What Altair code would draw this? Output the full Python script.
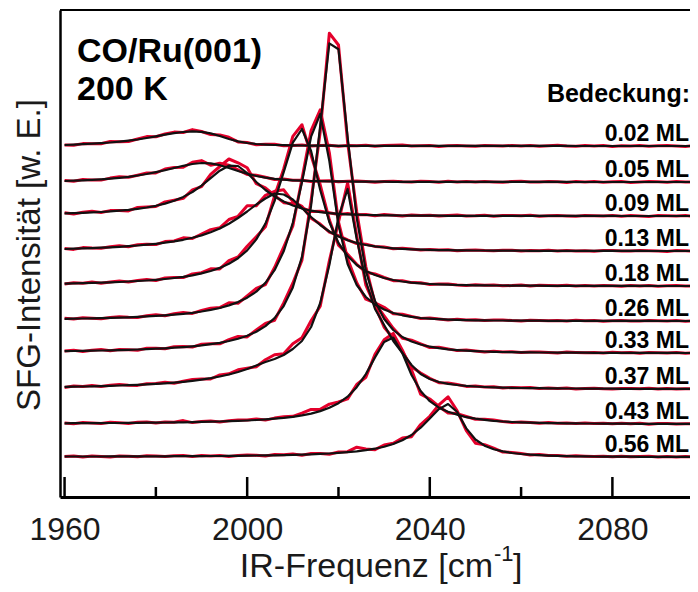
import altair as alt
import pandas as pd

freq = [1960, 1962, 1964, 1966, 1968, 1970, 1972, 1974, 1976, 1978,
        1980, 1982, 1984, 1986, 1988, 1990, 1992, 1994, 1996, 1998,
        2000, 2002, 2004, 2006, 2008, 2010, 2012, 2014, 2016, 2018,
        2020, 2022, 2024, 2026, 2028, 2030, 2032, 2034, 2036, 2038,
        2040, 2042, 2044, 2046, 2048, 2050, 2052, 2054, 2056, 2058,
        2060, 2062, 2064, 2066, 2068, 2070, 2072, 2074, 2076, 2078,
        2080, 2082, 2084, 2086, 2088, 2090, 2092, 2094, 2096, 2098]

coverage = ["0.02 ML", "0.05 ML", "0.09 ML", "0.13 ML", "0.18 ML",
            "0.26 ML", "0.33 ML", "0.37 ML", "0.43 ML", "0.56 ML"]
offsets = [351, 315, 281, 246, 211, 176, 144, 108, 73, 40]

fit_002 = [1.0, 1.4, 1.8, 2.3, 2.9, 3.5, 4.3, 5.3, 6.5, 8.0,
           9.6, 11.3, 12.8, 14.0, 14.6, 14.2, 12.6, 10.0, 7.0, 4.6,
           3.0, 2.0, 1.4, 1.0, 0.8, 0.6, 0.5, 0.4, 0.3, 0.3,
           0.2, 0.2, 0.2, 0.2, 0.2, 0.2, 0.2, 0.2, 0.2, 0.2,
           0.1, 0.1, 0.1, 0.1, 0.1, 0.1, 0.1, 0.1, 0.1, 0.1,
           0.1, 0.1, 0.1, 0.1, 0.1, 0.1, 0, 0, 0, 0,
           0, 0, 0, 0, 0, 0, 0, 0, 0, 0]
fit_005 = [1.0, 1.3, 1.7, 2.1, 2.6, 3.3, 4.2, 5.2, 6.5, 8.0,
           9.8, 11.8, 14.0, 16.2, 18.0, 19.0, 18.6, 16.8, 14.0, 11.0,
           8.2, 6.0, 4.3, 3.1, 2.3, 1.7, 1.3, 1.0, 0.8, 0.7,
           0.6, 0.5, 0.4, 0.4, 0.3, 0.3, 0.2, 0.2, 0.2, 0.2,
           0.2, 0.1, 0.1, 0.1, 0.1, 0.1, 0.1, 0.1, 0.1, 0.1,
           0.1, 0.1, 0.1, 0.1, 0.1, 0.1, 0, 0, 0, 0,
           0, 0, 0, 0, 0, 0, 0, 0, 0, 0]
fit_009 = [2.6, 2.8, 3.2, 3.6, 4.0, 4.6, 5.3, 6.1, 7.2, 8.5,
           10.2, 12.4, 15.3, 19.1, 24.0, 30.4, 37.9, 45.3, 50.3, 50.0,
           43.0, 34.0, 26.0, 19.5, 14.5, 10.5, 7.5, 5.3, 3.8, 2.8,
           2.1, 1.6, 1.3, 1.0, 0.8, 0.7, 0.6, 0.5, 0.4, 0.4,
           0.3, 0.3, 0.2, 0.2, 0.2, 0.2, 0.2, 0.2, 0.2, 0.2,
           0.2, 0.1, 0.1, 0.1, 0.1, 0.1, 0.1, 0.1, 0.1, 0.1,
           0.1, 0, 0, 0, 0, 0, 0, 0, 0, 0]
fit_013 = [2.0, 2.3, 2.6, 2.9, 3.3, 3.7, 4.2, 4.8, 5.5, 6.3,
           7.2, 8.3, 9.6, 11.2, 13.2, 15.6, 18.7, 22.5, 27.3, 33.0,
           39.5, 46.5, 52.5, 57.5, 56.5, 51.5, 43.0, 34.0, 26.0, 19.5,
           14.5, 10.8, 8.0, 6.0, 4.6, 3.5, 2.7, 2.1, 1.7, 1.4,
           1.1, 0.9, 0.8, 0.7, 0.6, 0.5, 0.5, 0.4, 0.4, 0.3,
           0.3, 0.2, 0.2, 0.2, 0.2, 0.2, 0.1, 0.1, 0.1, 0.1,
           0.1, 0.1, 0.1, 0.1, 0, 0, 0, 0, 0, 0]
fit_018 = [2.4, 2.6, 2.8, 3.1, 3.4, 3.7, 4.0, 4.5, 5.0, 5.5,
           6.2, 7.0, 8.0, 9.2, 10.7, 12.6, 15.0, 18.1, 22.2, 27.8,
           35.6, 46.6, 62.4, 84.8, 113.9, 143.4, 157.0, 135.0, 96.0, 64.0,
           43.0, 30.0, 21.0, 15.0, 11.0, 8.0, 6.0, 4.5, 3.4, 2.6,
           2.0, 1.6, 1.3, 1.0, 0.8, 0.7, 0.6, 0.5, 0.5, 0.4,
           0.4, 0.3, 0.3, 0.2, 0.2, 0.2, 0.2, 0.2, 0.1, 0.1,
           0.1, 0.1, 0.1, 0.1, 0.1, 0, 0, 0, 0, 0]
fit_026 = [2.1, 2.3, 2.5, 2.7, 2.9, 3.1, 3.4, 3.7, 4.1, 4.6,
           5.1, 5.7, 6.4, 7.2, 8.2, 9.5, 11.1, 13.0, 15.6, 18.9,
           23.3, 29.4, 38.1, 50.8, 69.7, 98.2, 138.7, 184.3, 207.0, 160.0,
           96.0, 57.0, 36.0, 24.0, 16.5, 11.5, 8.0, 5.7, 4.1, 3.0,
           2.3, 1.8, 1.4, 1.1, 0.9, 0.7, 0.6, 0.5, 0.5, 0.4,
           0.4, 0.3, 0.3, 0.2, 0.2, 0.2, 0.2, 0.2, 0.1, 0.1,
           0.1, 0.1, 0.1, 0.1, 0.1, 0, 0, 0, 0, 0]
fit_033 = [1.9, 2.0, 2.1, 2.3, 2.5, 2.7, 2.9, 3.2, 3.5, 3.9,
           4.3, 4.7, 5.3, 5.9, 6.7, 7.6, 8.8, 10.2, 12.0, 14.3,
           17.3, 21.3, 26.9, 34.9, 46.9, 65.6, 96.1, 147.3, 227.5, 309.6,
           303.8, 216.0, 135.0, 82.0, 52.0, 34.0, 23.0, 16.0, 11.5, 8.5,
           6.3, 4.8, 3.7, 2.9, 2.3, 1.9, 1.5, 1.2, 1.0, 0.8,
           0.7, 0.6, 0.5, 0.5, 0.4, 0.4, 0.3, 0.3, 0.2, 0.2,
           0.2, 0.2, 0.2, 0.1, 0.1, 0.1, 0.1, 0.1, 0, 0]
fit_037 = [2.1, 2.3, 2.5, 2.7, 2.9, 3.2, 3.5, 3.8, 4.2, 4.6,
           5.1, 5.7, 6.4, 7.2, 8.2, 9.4, 10.8, 12.5, 14.5, 17.0,
           20.0, 23.5, 27.0, 30.0, 34.0, 40.0, 48.0, 62.0, 86.0, 124.0,
           172.0, 200.0, 150.0, 108.0, 80.0, 64.0, 48.0, 36.0, 24.0, 15.0,
           10.0, 7.0, 5.2, 4.0, 3.1, 2.5, 2.0, 1.7, 1.4, 1.2,
           1.0, 0.9, 0.8, 0.7, 0.6, 0.5, 0.5, 0.4, 0.4, 0.3,
           0.3, 0.2, 0.2, 0.2, 0.2, 0.2, 0.1, 0.1, 0.1, 0.1]
fit_043 = [0.7, 0.8, 0.8, 0.9, 0.9, 1.0, 1.0, 1.1, 1.2, 1.3,
           1.4, 1.5, 1.6, 1.7, 1.9, 2.1, 2.3, 2.5, 2.8, 3.1,
           3.5, 4.0, 4.6, 5.3, 6.1, 7.2, 8.6, 10.4, 12.9, 16.2,
           20.8, 27.3, 36.8, 49.9, 66.6, 82.0, 86.4, 70.7, 49.0, 33.0,
           22.8, 16.3, 12.2, 9.4, 6.8, 5.3, 4.2, 3.2, 2.5, 2.0,
           1.6, 1.3, 1.1, 0.9, 0.8, 0.7, 0.6, 0.5, 0.5, 0.4,
           0.4, 0.3, 0.3, 0.2, 0.2, 0.2, 0.2, 0.1, 0.1, 0.1]
fit_056 = [0.5, 0.5, 0.5, 0.5, 0.5, 0.6, 0.6, 0.6, 0.6, 0.6,
           0.7, 0.7, 0.8, 0.8, 0.9, 0.9, 1.0, 1.0, 1.1, 1.2,
           1.3, 1.5, 1.6, 1.7, 1.9, 2.1, 2.4, 2.7, 3.1, 3.5,
           4.1, 4.8, 5.6, 6.8, 8.3, 10.3, 13.0, 16.8, 22.0, 29.3,
           38.5, 47.9, 53.0, 45.0, 28.6, 17.5, 11.3, 7.7, 5.6, 4.0,
           3.0, 2.3, 1.8, 1.4, 1.1, 0.9, 0.7, 0.6, 0.5, 0.4,
           0.4, 0.3, 0.3, 0.2, 0.2, 0.2, 0.2, 0.1, 0.1, 0.1]

res_002 = [0, -0.7, 0.6, 0, -0.7, 1.0, 0, -0.8, 0.5, 1.4,
           -0.4, 0.7, 1.1, -0.5, 1.8, 0.3, -1.2, 1.0, 1.7, -0.5,
           0.5, -0.8, 0.3, 0.7, -0.5, 0, 0.6, -0.4, 0.2, 0.5,
           -0.5, 0.3, 0, 0.6, -0.4, 0.2, 0.5, 0.8, -0.2, 0,
           0.4, -0.5, 0.2, 0.5, 0, -0.4, 0.4, 0.2, -0.2, 0.5,
           0, 0.4, -0.4, 0.2, 0.6, 0, -0.2, 0.4, 0, 0.5,
           -0.4, 0.2, 0, 0.4, -0.2, 0.2, 0.5, 0, -0.4, 0.2]
res_005 = [0.5, -0.6, 0.8, 0, -0.7, 0.6, 1.1, -0.5, 0.3, 1.0,
           -0.8, 1.2, 0.5, -1.4, 1.7, 2.4, -1.8, 2.0, 2.7, 1.2,
           -0.7, 0.8, 0.4, -0.6, 0.7, 0, 0.5, -0.5, 0.3, 0.6,
           -0.4, 0.2, 0.5, 0, -0.5, 0.3, 0.6, 0, -0.2, 0.5,
           0.2, -0.4, 0.6, 0, 0.4, -0.2, 0.5, 0, -0.4, 0.4,
           0.6, 0, -0.2, 0.4, 0.2, -0.5, 0.4, 0, 0.5, -0.2,
           0.2, 0.4, -0.4, 0, 0.5, 0.2, -0.2, 0.4, 0, 0.2]
res_009 = [0.7, -0.8, 0.6, 1.2, -0.5, 0.8, 0.3, -1.0, 1.4, 0.6,
           -0.7, 1.7, 0.5, -1.4, 2.2, -1.0, 3.7, 4.2, 6.7, 3.2,
           5.2, -1.7, 2.2, 1.2, -1.2, 1.7, 0.7, -0.7, 1.0, 0.4,
           -0.6, 0.8, 0, 0.5, -0.5, 0.7, 0.2, -0.4, 0.6, 0,
           0.5, -0.4, 0.4, 0.7, -0.2, 0, 0.5, -0.5, 0.4, 0.2,
           0, 0.6, -0.4, 0.2, 0.5, 0, -0.4, 0.4, 0.2, 0,
           0.5, -0.2, 0.4, 0, -0.4, 0.5, 0.2, 0, 0.4, -0.2]
res_013 = [0.4, -0.7, 0.8, 0, -0.6, 0.5, 1.0, -0.5, 0.7, 0.4,
           -0.8, 1.1, 0.5, 2.0, -0.7, 1.4, 2.7, 0.7, 4.2, 1.7,
           5.7, -1.2, 3.2, 2.2, 4.7, -2.2, 1.7, -1.2, 1.0, -0.7,
           0.8, 0.4, -0.6, 0.7, 0, 0.5, -0.4, 0.6, 0.2, -0.5,
           0.4, 0, 0.5, -0.4, 0.2, 0.6, 0, -0.2, 0.4, 0.5,
           -0.4, 0.2, 0, 0.5, -0.2, 0.4, 0, 0.2, -0.4, 0.4,
           0.5, 0, -0.2, 0.4, 0.2, 0, -0.4, 0.4, 0.2, 0]
res_018 = [-0.5, 0.6, 0, 0.8, -0.6, 0.4, 0.9, -0.4, 0.6, 1.1,
           -0.7, 1.0, 0.5, -0.8, 1.4, 0.7, 2.2, -1.0, 3.2, 1.2,
           4.2, 2.7, -3.2, 5.2, 3.2, 6.2, 4.2, -4.2, 5.2, 2.2,
           -2.2, 1.7, 0.7, -1.2, 1.0, 0.5, -0.7, 0.8, 0, 0.6,
           -0.5, 0.4, 0.7, 0, -0.4, 0.5, 0.2, 0.6, -0.2, 0,
           0.5, -0.4, 0.4, 0.2, 0, 0.6, -0.2, 0.4, 0, 0.5,
           0.2, -0.4, 0.4, 0, 0.5, -0.2, 0.2, 0.4, 0, 0.2]
res_026 = [0.6, -0.4, 0.7, 0, -0.7, 0.5, 0.8, 0, -0.6, 0.7,
           1.1, -0.5, 0.8, 1.4, -0.6, 1.0, 1.7, 0.4, 2.7, -1.2,
           1.7, 3.2, -1.7, 2.7, 4.2, -3.2, 3.2, 6.2, 4.2, 8.2,
           3.2, 5.2, 2.2, -2.2, 1.7, 2.2, -0.7, 1.0, 0.5, -0.5,
           0.7, 0.2, -0.4, 0.6, 0, 0.5, -0.2, 0.4, 0.6, 0,
           -0.4, 0.5, 0.2, 0, 0.4, -0.2, 0.5, 0, 0.4, -0.4,
           0.2, 0.5, 0, -0.2, 0.4, 0.2, 0, 0.4, -0.2, 0.2]
res_033 = [0, 0.7, -0.6, 0.5, 0.9, -0.4, 0.6, 0, -0.7, 0.8,
           0.4, -0.5, 1.0, 0.6, -0.8, 1.2, 0.5, -1.0, 1.4, 2.2,
           -1.2, 1.7, 2.7, -2.2, 3.2, 4.2, -3.2, 5.2, -6.2, 10.2,
           4.2, -5.2, 6.2, 4.2, -2.2, 3.2, 1.7, -1.2, 1.4, 0.7,
           -0.8, 1.0, 0.4, -0.5, 0.7, 0.2, -0.4, 0.6, 0, 0.5,
           -0.2, 0.4, 0.6, 0, -0.4, 0.5, 0.2, 0, 0.4, -0.2,
           0.5, 0, 0.2, -0.4, 0.4, 0.2, 0, 0.5, -0.2, 0.2]
res_037 = [-0.5, 0.6, 0, 0.8, -0.4, 0.5, 1.0, 0, -0.6, 0.7,
           0.4, 1.1, -0.7, 0.6, 1.3, 0.5, -0.8, 1.6, 0.7, 2.2,
           0.7, -1.2, 2.2, 4.2, 1.2, 5.2, 3.2, 6.2, -3.2, 4.2,
           -5.2, 6.2, 3.2, -4.2, 3.2, -2.2, 2.7, 1.2, -1.7, 1.0,
           0.6, -0.7, 0.8, 0.4, -0.5, 0.6, 0, 0.5, -0.4, 0.4,
           0.2, 0.5, -0.2, 0.4, 0, 0.5, -0.4, 0.2, 0.4, 0,
           -0.2, 0.4, 0.2, 0, 0.5, -0.2, 0.4, 0, 0.2, 0.2]
res_043 = [0.4, -0.5, 0.6, 0, -0.4, 0.7, 0.2, -0.6, 0.5, 0.8,
           -0.4, 0.6, 0.2, 1.7, -0.5, 0.4, 0.7, -0.6, 0.5, 0.8,
           0.4, 1.0, -0.7, 0.6, 1.2, 0.5, 2.2, 4.2, 1.7, 3.7,
           1.2, -2.2, 2.7, -3.2, 3.2, 2.2, 4.2, 3.2, 5.2, -3.2,
           2.2, 1.2, -1.2, 1.0, 0.7, -0.6, 0.5, 0.8, 0, -0.4,
           0.5, 0.2, -0.4, 0.6, 0, 0.4, -0.2, 0.5, 0, 0.4,
           -0.2, 0.4, 0, 0.5, -0.4, 0.2, 0.4, 0, 0.2, 0]
res_056 = [0, 0.5, -0.4, 0.6, 0, -0.5, 0.5, 0.2, -0.4, 0.6,
           0.4, -0.2, 0.5, 0.7, -0.4, 0.5, 0, 0.6, -0.5, 0.4,
           0.7, 0.2, -0.5, 0.8, 0.4, 1.0, -0.6, 0.7, 0.5, -0.7,
           0.9, 0.5, 4.2, 1.2, -1.0, 1.7, 0.7, 2.2, -1.7, 3.2,
           2.2, 4.2, 7.2, 1.2, -2.2, -3.7, 1.0, 1.2, -0.7, 0.6,
           0.5, -0.4, 0.6, 0, 0.4, -0.2, 0.5, 0.2, 0, 0.4,
           -0.2, 0.4, 0, 0.2, 0.5, -0.2, 0.2, 0, 0.4, 0]

fits = [fit_002, fit_005, fit_009, fit_013, fit_018,
        fit_026, fit_033, fit_037, fit_043, fit_056]
resids = [res_002, res_005, res_009, res_013, res_018,
          res_026, res_033, res_037, res_043, res_056]

major_ticks = [1960, 2000, 2040, 2080]
minor_ticks = [1980, 2020, 2060]

rows = []
for k, (lab, off, fit, res) in enumerate(zip(coverage, offsets, fits, resids)):
    for f, a, r in zip(freq, fit, res):
        rows.append({"freq": f, "fit": off + a, "meas": off + a + r, "cov": lab, "k": k})
df = pd.DataFrame(rows)
lab_df = pd.DataFrame({"cov": coverage, "off": offsets})

FONT = "Liberation Sans"
W, H = 630, 487

xscale = alt.Scale(domain=[1959, 2097], nice=False, zero=False)
yscale = alt.Scale(domain=[0, 487], nice=False, zero=False)

xaxis = alt.Axis(values=major_ticks, format="d", ticks=False, grid=False, title=None,
                 labelFontSize=32, labelFont=FONT, labelColor="#1a1a1a", labelPadding=17,
                 labelFlush=False, labelOverlap=False, domainColor="black", domainWidth=3)
yaxis = alt.Axis(labels=False, ticks=False, grid=False, title=None,
                 domainColor="black", domainWidth=2.5)

red = alt.Chart(df).mark_line(color="#e4002b", strokeWidth=3.0, strokeJoin="round").encode(
    x=alt.X("freq:Q", scale=xscale, axis=xaxis),
    y=alt.Y("meas:Q", scale=yscale, axis=yaxis),
    detail="k:N",
)
black = alt.Chart(df).mark_line(color="#111111", strokeWidth=2.2, strokeJoin="round").encode(
    x=alt.X("freq:Q", scale=xscale),
    y=alt.Y("fit:Q", scale=yscale),
    detail="k:N",
)

maj = alt.Chart(pd.DataFrame({"t": major_ticks})).mark_rule(color="black", strokeWidth=2.5).encode(
    x=alt.X("t:Q", scale=xscale), y=alt.value(H), y2=alt.value(H - 20))
mnr = alt.Chart(pd.DataFrame({"t": minor_ticks})).mark_rule(color="black", strokeWidth=2.5).encode(
    x=alt.X("t:Q", scale=xscale), y=alt.value(H), y2=alt.value(H - 10))
top = alt.Chart(pd.DataFrame({"t": [0]})).mark_rule(color="black", strokeWidth=2.2).encode(
    x=alt.value(0), x2=alt.value(W), y=alt.value(0))

labels = alt.Chart(lab_df).mark_text(align="right", baseline="alphabetic", dy=-5, fontSize=23,
                                     fontWeight="bold", font=FONT, color="black").encode(
    x=alt.value(W - 1), y=alt.Y("off:Q", scale=yscale), text="cov:N")


def note(txt, x, y, size, weight="normal", align="left", angle=None, color="black"):
    kw = dict(align=align, baseline="alphabetic", fontSize=size, fontWeight=weight,
              font=FONT, color=color)
    if angle is not None:
        kw["angle"] = angle
    return alt.Chart(pd.DataFrame({"t": [txt]})).mark_text(**kw).encode(
        x=alt.value(x), y=alt.value(y), text="t:N")


t1 = note("CO/Ru(001)", 17, 52, 34, "bold")
t2 = note("200 K", 17, 90, 34, "bold")
t3 = note("Bedeckung:", W, 92, 25, "bold", align="right")
xt1 = note("IR-Frequenz [cm", 433, 567, 34, align="right", color="#1a1a1a")
xt2 = note("-1", 434, 551, 22, color="#1a1a1a")
xt3 = note("]", 453, 567, 34, color="#1a1a1a")
yt = note("SFG-Intensität [w. E.]", -20, 245, 33, align="center", angle=270, color="#1a1a1a")

chart = alt.layer(red, black, maj, mnr, top, labels, t1, t2, t3, xt1, xt2, xt3, yt).properties(
    width=W, height=H,
    padding={"left": 52, "top": 2, "right": 0, "bottom": 87},
    autosize=alt.AutoSizeParams(type="none"),
).configure_view(stroke=None)

chart.save("out.html", embed_options={"renderer": "svg", "actions": False})
